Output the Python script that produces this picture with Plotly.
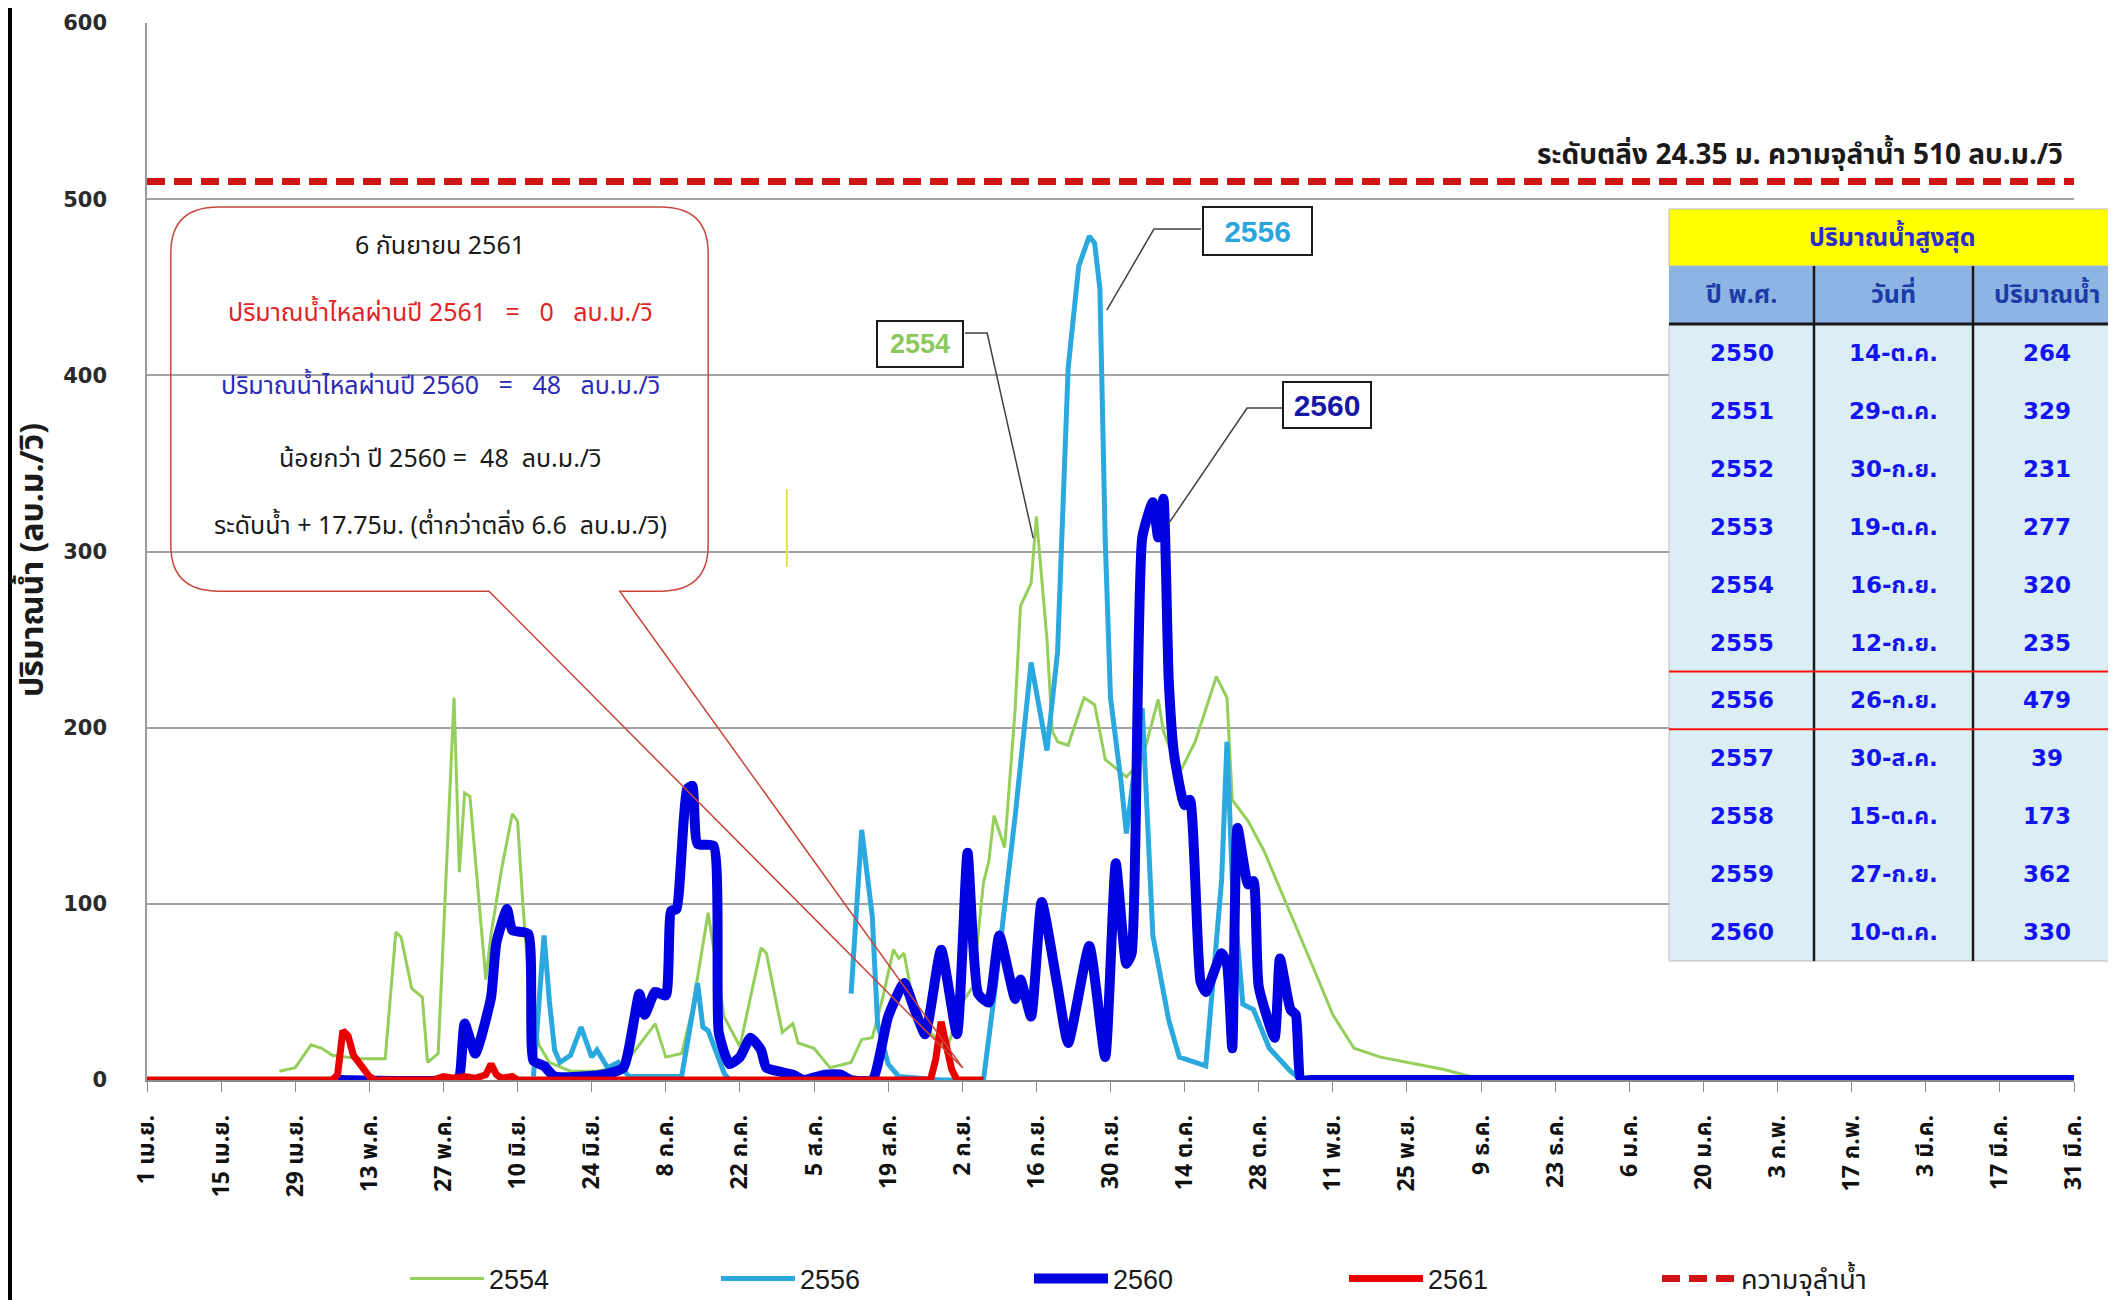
import plotly.graph_objects as go

# ---------------- data ----------------
tick_days = [0, 14, 28, 42, 56, 70, 84, 98, 112, 126, 140, 154, 168, 182, 196,
             210, 224, 238, 252, 266, 280, 294, 308, 322, 336, 350, 364]
tick_labels = ["1 เม.ย.", "15 เม.ย.", "29 เม.ย.", "13 พ.ค.", "27 พ.ค.", "10 มิ.ย.",
               "24 มิ.ย.", "8 ก.ค.", "22 ก.ค.", "5 ส.ค.", "19 ส.ค.", "2 ก.ย.",
               "16 ก.ย.", "30 ก.ย.", "14 ต.ค.", "28 ต.ค.", "11 พ.ย.", "25 พ.ย.",
               "9 ธ.ค.", "23 ธ.ค.", "6 ม.ค.", "20 ม.ค.", "3 ก.พ.", "17 ก.พ.",
               "3 มี.ค.", "17 มี.ค.", "31 มี.ค."]

day_2554 = [25, 28, 31, 33, 35, 40, 45, 47, 48, 50,
            52, 53, 55, 58, 59, 60, 61, 64, 65, 67,
            69, 70, 71, 72, 74, 76, 80, 85, 90, 93,
            96, 98, 101, 103, 106, 109, 112, 116, 117, 120,
            122, 123, 126, 129, 133, 135, 137, 139, 141, 142,
            143, 145, 148, 151, 154, 156, 158, 159, 160, 162,
            164, 165, 167, 168, 170, 171, 172, 174, 177, 179,
            181, 185, 188, 191, 192, 195, 198, 202, 204, 205,
            208, 211, 216, 220, 224, 228, 233, 238, 245, 250,
            254]
flow_2554 = [5, 7, 20, 18, 14, 12, 12, 84, 81, 52,
             47, 10, 15, 217, 118, 163, 161, 57, 83, 120,
             151, 147, 100, 60, 20, 10, 5, 5, 8, 20,
             32, 13, 15, 40, 95, 36, 19, 75, 72, 27,
             32, 21, 18, 7, 10, 23, 24, 47, 74, 69,
             72, 40, 27, 17, 44, 53, 112, 124, 150, 132,
             211, 269, 282, 320, 250, 198, 192, 190, 217, 213,
             182, 172, 182, 216, 198, 174, 192, 229, 217, 159,
             147, 130, 95, 66, 37, 18, 13, 10, 6, 2,
             0]

day_2556 = [73, 74, 75, 76, 77, 78, 80, 82, 84, 85,
            87, 89, 91, 101, 102, 104, 105, 106, 109, 110,
            111, 133, 135, 137, 138, 140, 142, 150, 158, 160,
            164, 167, 170, 172, 174, 176, 178, 179, 180, 181,
            182, 184, 185, 188, 190, 193, 195, 200, 203, 204,
            205, 207, 209, 212, 216, 218]
flow_2556 = [2, 40, 82, 45, 17, 10, 14, 30, 13, 17,
             7, 10, 2, 2, 20, 55, 30, 28, 4, 0,
             None, 49, 142, 93, 32, 9, 2, 0, 0, 47,
             150, 237, 187, 243, 404, 462, 479, 475, 449, 307,
             217, 169, 140, 211, 82, 34, 13, 8, 114, 192,
             114, 43, 40, 18, 5, 0]

day_2560 = [36, 58, 59, 60, 62, 63, 65, 66, 68, 69,
            72, 73, 75, 77, 86, 90, 93, 94, 96, 98,
            99, 100, 102, 103, 104, 107, 108, 110, 112, 114,
            116, 117, 122, 124, 128, 131, 133, 137, 140, 143,
            145, 147, 150, 153, 155, 157, 159, 161, 164, 165,
            167, 169, 172, 174, 178, 181, 183, 185, 186, 188,
            190, 191, 192, 193, 194, 196, 197, 199, 200, 203,
            204, 205, 206, 208, 209, 210, 213, 214, 216, 217,
            218, 220, 364]
flow_2560 = [0, 0, 2, 32, 15, 23, 47, 78, 97, 85,
             83, 11, 8, 2, 3, 7, 49, 37, 50, 48,
             96, 97, 165, 167, 134, 133, 27, 9, 13, 24,
             17, 7, 3, 0, 3, 3, 0, 0, 36, 55,
             40, 26, 74, 26, 129, 49, 44, 82, 46, 57,
             36, 101, 53, 21, 76, 13, 123, 66, 72, 308,
             328, 308, 330, 227, 185, 156, 159, 56, 50, 72,
             66, 18, 143, 111, 113, 53, 24, 69, 40, 37,
             0, 0, 0]

day_2561 = [0, 35, 36, 37, 38, 39, 40, 41, 42, 43,
            54, 56, 58, 60, 62, 64, 65, 66, 67, 69,
            70, 148, 149, 150, 151, 152, 153, 158]
flow_2561 = [0, 0, 3, 28, 25, 14, 10, 6, 2, 0,
             0, 2, 1, 2, 1, 3, 9, 3, 1, 2,
             0, 0, 12, 33, 18, 6, 0, 0]

capacity_days = [0, 364]
capacity_flow = [510, 510]

table_years = ["2550", "2551", "2552", "2553", "2554", "2555",
               "2556", "2557", "2558", "2559", "2560"]
table_dates = ["14-ต.ค.", "29-ต.ค.", "30-ก.ย.", "19-ต.ค.", "16-ก.ย.", "12-ก.ย.",
               "26-ก.ย.", "30-ส.ค.", "15-ต.ค.", "27-ก.ย.", "10-ต.ค."]
table_flows = ["264", "329", "231", "277", "320", "235",
               "479", "39", "173", "362", "330"]

# ---------------- layout helpers (screen pixel -> paper) ----------------
# The page body has an 8px margin, so the figure is shifted by 8px on screen.
OFF = 8
W, H = 2116 - OFF, 1300 - OFF
SL, SR, ST, SB = 147, 2074, 23, 1080          # plot area on screen
L, T = SL - OFF, ST - OFF
R = W - (SR - OFF)
B = H - (SB - OFF)
PW, PH = SR - SL, SB - ST


def px(x):
    return (x - SL) / PW


def py(y):
    return (SB - y) / PH


THAI = "Tahoma, 'Noto Sans Thai', 'Noto Sans', 'DejaVu Sans', sans-serif"
LEG_FONT = "'Liberation Sans Narrow', 'Liberation Sans', " + THAI
ITEM_W = 74

fig = go.Figure()
series = [
    (day_2554, flow_2554, "2554", dict(color="#93CF5A", width=3), "legend", 489),
    (day_2556, flow_2556, "2556", dict(color="#2BA8DD", width=5), "legend2", 800),
    (day_2560, flow_2560, "2560", dict(color="#0000E0", width=10, shape="spline", smoothing=0.5),
     "legend3", 1113),
    (day_2561, flow_2561, "2561", dict(color="#E80000", width=7), "legend4", 1428),
    (capacity_days, capacity_flow, "ความจุลำน้ำ", dict(color="#D01515", width=7, dash="18px,9px"),
     "legend5", 1741),
]
legend_layouts = {}
for xs, ys, nm, ln, lg, text_x in series:
    fig.add_trace(go.Scatter(x=xs, y=ys, mode="lines", name=nm, line=ln, legend=lg))
    legend_layouts[lg] = dict(x=px(text_x - ITEM_W - 10), y=py(1279), xanchor="left",
                              yanchor="middle", orientation="h", itemwidth=ITEM_W,
                              bgcolor="rgba(0,0,0,0)", borderwidth=0,
                              font=dict(family=LEG_FONT, size=27, color="#1a1a1a"))

shapes = []
ann = []

# callout box with tail (data coordinates)
bx0, bx1, by0, by1 = 4.5, 106.0, 277.5, 495.5
rx, ry = 9.0, 26.0
tail_l, tail_r, tip = (64.6, by0), (89.3, by0), (154.1, 6.8)
path = (f"M {tail_l[0]},{by0} L {bx0+rx},{by0} Q {bx0},{by0} {bx0},{by0+ry} "
        f"L {bx0},{by1-ry} Q {bx0},{by1} {bx0+rx},{by1} L {bx1-rx},{by1} "
        f"Q {bx1},{by1} {bx1},{by1-ry} L {bx1},{by0+ry} Q {bx1},{by0} {bx1-rx},{by0} "
        f"L {tail_r[0]},{by0} L {tip[0]},{tip[1]} Z")
shapes.append(dict(type="path", xref="x", yref="y", path=path,
                   line=dict(color="#C8463C", width=1.5), fillcolor="rgba(0,0,0,0)"))

callout_lines = [
    ("6 กันยายน 2561", "#1a1a1a", 246),
    ("ปริมาณน้ำไหลผ่านปี 2561   =   0   ลบ.ม./วิ", "#E02424", 313),
    ("ปริมาณน้ำไหลผ่านปี 2560   =   48   ลบ.ม./วิ", "#2A2AB8", 386),
    ("น้อยกว่า ปี 2560 =  48  ลบ.ม./วิ", "#1a1a1a", 459),
    ("ระดับน้ำ + 17.75ม. (ต่ำกว่าตลิ่ง 6.6  ลบ.ม./วิ)", "#1a1a1a", 526),
]
for txt, col, yy in callout_lines:
    ann.append(dict(xref="paper", yref="paper", x=px(440), y=py(yy), text=txt,
                    showarrow=False, xanchor="center", yanchor="middle",
                    font=dict(family=THAI, size=25, color=col)))

# series labels with leader lines (data coordinates)
leaders = [
    "M 199.1,483 L 190.2,483 L 181.3,437",
    "M 214.4,381.4 L 207.8,381.4 L 192.9,315.5",
    "M 154.5,424 L 158.7,424 L 167.4,307.6",
]
for p in leaders:
    shapes.append(dict(type="path", xref="x", yref="y", path=p,
                       line=dict(color="#404040", width=1.5)))

labels = [("2556", "#2AA6DE", 209.7, 481.8, 107, 46, 30),
          ("2560", "#1717A6", 222.9, 383.0, 86, 44, 30),
          ("2554", "#8CC860", 146.0, 417.7, 84, 44, 27)]
for txt, col, xx, yy, ww, hh, fs in labels:
    ann.append(dict(xref="x", yref="y", x=xx, y=yy, text=f"<b>{txt}</b>", showarrow=False,
                    xanchor="center", yanchor="middle",
                    width=ww, height=hh, bordercolor="#1a1a1a", borderwidth=2,
                    bgcolor="white", borderpad=0,
                    font=dict(family="'Liberation Sans', Arial, sans-serif", size=fs, color=col)))

# capacity label
ann.append(dict(xref="paper", yref="paper", x=px(2065), y=py(156), xanchor="right",
                yanchor="middle", showarrow=False,
                text="<b>ระดับตลิ่ง 24.35 ม. ความจุลำน้ำ 510 ลบ.ม./วิ</b>",
                font=dict(family=THAI, size=28, color="#1a1a1a")))

# small yellow mark
shapes.append(dict(type="line", xref="paper", yref="paper", x0=px(787), x1=px(787),
                   y0=py(489), y1=py(567), line=dict(color="#F2E04A", width=2)))

# left frame line
shapes.append(dict(type="line", xref="paper", yref="paper", x0=px(OFF + 2), x1=px(OFF + 2),
                   y0=py(OFF), y1=py(1300), line=dict(color="black", width=4)))

# ---------------- table ----------------
tx0, tx1, tx2, tx3 = 1669, 1814, 1973, 2116
ty_title, ty_head, ty_body, ty_end = 209, 266, 324, 961
row_h = (ty_end - ty_body) / len(table_years)

shapes.append(dict(type="rect", xref="paper", yref="paper", x0=px(tx0), x1=px(tx3),
                   y0=py(ty_title), y1=py(ty_head), fillcolor="#FFFF00",
                   line=dict(color="#BDBDBD", width=1)))
shapes.append(dict(type="rect", xref="paper", yref="paper", x0=px(tx0), x1=px(tx3),
                   y0=py(ty_head), y1=py(ty_body), fillcolor="#8DB4E2",
                   line=dict(width=0)))
shapes.append(dict(type="rect", xref="paper", yref="paper", x0=px(tx0), x1=px(tx3),
                   y0=py(ty_body), y1=py(ty_end), fillcolor="#DAEEF3",
                   line=dict(color="#BDBDBD", width=1)))
for xv in (tx1, tx2):
    shapes.append(dict(type="line", xref="paper", yref="paper", x0=px(xv), x1=px(xv),
                       y0=py(ty_head), y1=py(ty_end), line=dict(color="#1a1a1a", width=2.5)))
shapes.append(dict(type="line", xref="paper", yref="paper", x0=px(tx0), x1=px(tx3),
                   y0=py(ty_body), y1=py(ty_body), line=dict(color="#1a1a1a", width=3)))
red_row = table_years.index("2556")
for k in (red_row, red_row + 1):
    yy = ty_body + k * row_h
    shapes.append(dict(type="line", xref="paper", yref="paper", x0=px(tx0), x1=px(tx3),
                       y0=py(yy), y1=py(yy), line=dict(color="#FF1010", width=2)))

ann.append(dict(xref="paper", yref="paper", x=px((tx0 + tx3) / 2), y=py((ty_title + ty_head) / 2),
                text="<b>ปริมาณน้ำสูงสุด</b>", showarrow=False, xanchor="center", yanchor="middle",
                font=dict(family=THAI, size=25, color="#2B2BD0")))
col_cx = [(tx0 + tx1) / 2, (tx1 + tx2) / 2, 2047]
for cx, h in zip(col_cx, ["ปี พ.ศ.", "วันที่", "ปริมาณน้ำ"]):
    ann.append(dict(xref="paper", yref="paper", x=px(cx), y=py((ty_head + ty_body) / 2),
                    text=f"<b>{h}</b>", showarrow=False, xanchor="center", yanchor="middle",
                    font=dict(family=THAI, size=25, color="#1C3BA8")))
for i, (yr, dt, fl) in enumerate(zip(table_years, table_dates, table_flows)):
    cy = ty_body + (i + 0.5) * row_h
    for cx, t in zip(col_cx, (yr, dt, fl)):
        ann.append(dict(xref="paper", yref="paper", x=px(cx), y=py(cy),
                        text=f"<b>{t}</b>", showarrow=False, xanchor="center", yanchor="middle",
                        font=dict(family="'DejaVu Sans', " + THAI, size=23, color="#1414F0")))

# y-axis title
ann.append(dict(xref="paper", yref="paper", x=px(33), y=py(560), textangle=-90,
                xanchor="center", yanchor="middle",
                text="<b>ปริมาณน้ำ (ลบ.ม./วิ)</b>", showarrow=False,
                font=dict(family=THAI, size=32, color="#1a1a1a")))

fig.update_layout(
    width=W, height=H,
    margin=dict(l=L, r=R, t=T, b=B, autoexpand=False),
    paper_bgcolor="white", plot_bgcolor="white",
    font=dict(family=THAI, color="#1a1a1a"),
    shapes=shapes, annotations=ann,
    showlegend=True,
    xaxis=dict(range=[0, 364], tickmode="array", tickvals=tick_days, ticktext=tick_labels,
               tickangle=-90, ticks="outside", ticklen=10, tickcolor="#8A8A8A",
               showline=True, linecolor="#8A8A8A", linewidth=1.5, showgrid=False,
               zeroline=False, ticklabelstandoff=14, automargin=False,
               tickfont=dict(family=THAI, size=23, color="#111111", weight="bold")),
    yaxis=dict(range=[0, 600], dtick=100, showgrid=True, gridcolor="#A3A3A3", gridwidth=1.5,
               showline=True, linecolor="#9A9A9A", linewidth=1.5, zeroline=False,
               ticks="", ticklabelstandoff=34, automargin=False,
               tickfont=dict(family="'DejaVu Sans', Arial, sans-serif", size=21,
                             color="#2a2a2a", weight="bold")),
)
fig.update_layout(**legend_layouts)

fig.write_html("out.html")
